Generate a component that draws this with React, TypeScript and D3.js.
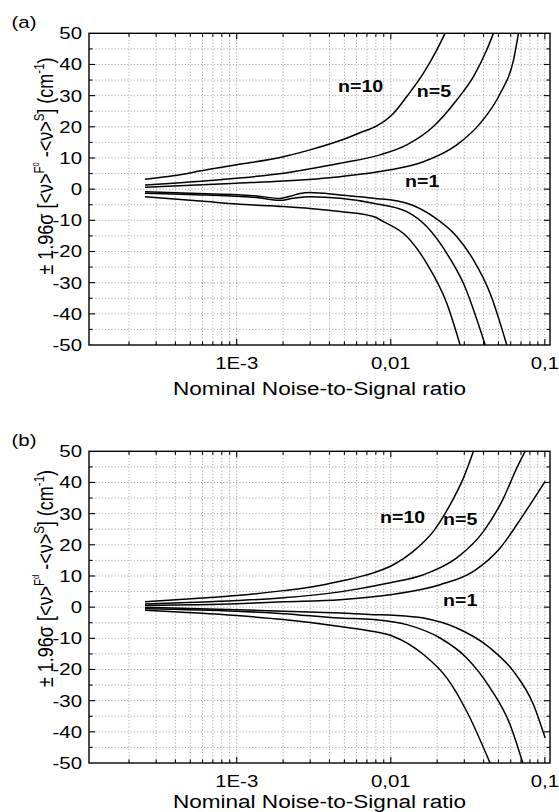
import React from 'react';
import * as d3 from 'd3';

// ---------- data ----------
const X_DOMAIN: [number, number] = [1.1e-4, 0.108];
const Y_DOMAIN: [number, number] = [-50, 50];
const Y_TICKS = [-50, -40, -30, -20, -10, 0, 10, 20, 30, 40, 50];
const X_TICKS = [1e-3, 1e-2, 1e-1];
const X_TICK_LABELS = ['1E-3', '0,01', '0,1'];

type Pt = [number, number];

// panel (a)
const aUp10: Pt[] = [[2.54e-4, 3.2], [3.88e-4, 4.3], [6.38e-4, 6.2], [1.0e-3, 7.8], [2.01e-3, 10.4], [2.99e-3, 12.6], [4.69e-3, 15.6], [6.32e-3, 18.1], [8.11e-3, 20.3], [0.0104, 24.3], [0.0127, 29.7], [0.0163, 37.2], [0.0199, 44.7], [0.0225, 50]];
const aUp5: Pt[] = [[2.54e-4, 1.3], [3.88e-4, 1.9], [1e-3, 3.5], [2.01e-3, 5.1], [4.69e-3, 8.3], [8.52e-3, 11.0], [0.0127, 14.2], [0.0189, 20.1], [0.0268, 28.6], [0.0344, 36.1], [0.042, 44.7], [0.0464, 50]];
const aUp1: Pt[] = [[2.54e-4, 0.6], [1e-3, 1.9], [2.01e-3, 2.6], [4.69e-3, 4.0], [9.9e-3, 6.2], [0.0163, 8.8], [0.0268, 14.2], [0.038, 21.1], [0.0513, 30.7], [0.0626, 41.4], [0.0674, 50]];
const aLo1: Pt[] = [[2.54e-4, -0.8], [6.38e-4, -1.5], [1.348e-3, -2.2], [1.91e-3, -3.0], [2.22e-3, -2.3], [2.58e-3, -1.4], [2.99e-3, -1.1], [4.69e-3, -1.9], [7.71e-3, -2.9], [0.0127, -4.5], [0.0189, -8.8], [0.0268, -15.2], [0.0344, -22.7], [0.0441, -33.4], [0.0566, -50]];
const aLo5: Pt[] = [[2.54e-4, -1.3], [6.38e-4, -1.9], [1.348e-3, -2.7], [1.91e-3, -3.6], [2.33e-3, -2.9], [2.99e-3, -2.4], [4.69e-3, -2.9], [7.71e-3, -4.5], [0.0127, -7.2], [0.0171, -12.0], [0.0231, -20.6], [0.0296, -30.2], [0.041, -50]];
const aLo10: Pt[] = [[2.54e-4, -2.4], [6.38e-4, -4.0], [1e-3, -4.8], [2.01e-3, -5.6], [2.99e-3, -6.2], [4.69e-3, -7.2], [7.71e-3, -8.8], [8.96e-3, -10.4], [0.0127, -15.2], [0.0171, -23.8], [0.0231, -36.6], [0.0282, -50]];

// panel (b)
const bUp10: Pt[] = [[2.54e-4, 1.7], [6.38e-4, 3.0], [1e-3, 3.7], [2.01e-3, 5.3], [2.99e-3, 6.4], [4.69e-3, 8.3], [7.71e-3, 11.0], [0.0104, 13.6], [0.014, 17.9], [0.0189, 24.3], [0.0243, 32.9], [0.0296, 41.4], [0.0344, 50]];
const bUp5: Pt[] = [[2.54e-4, 1.0], [1e-3, 2.1], [2.01e-3, 3.0], [4.69e-3, 4.9], [9.9e-3, 7.8], [0.0163, 10.4], [0.0268, 15.8], [0.04, 24.3], [0.0539, 35.0], [0.0658, 44.7], [0.0745, 50]];
const bUp1: Pt[] = [[2.54e-4, 0.6], [1e-3, 1.1], [2.01e-3, 1.7], [4.69e-3, 2.4], [9.9e-3, 4.0], [0.0209, 7.2], [0.0344, 11.5], [0.0513, 19.0], [0.0727, 29.7], [0.1005, 40.4]];
const bLo1: Pt[] = [[2.54e-4, 0.0], [1e-3, -0.8], [2.01e-3, -1.3], [4.69e-3, -1.9], [7.71e-3, -2.4], [0.0104, -2.6], [0.0163, -3.5], [0.0268, -6.7], [0.0441, -13.1], [0.0626, -20.6], [0.0844, -31.3], [0.1005, -42.0]];
const bLo5: Pt[] = [[2.54e-4, -0.5], [1e-3, -1.3], [2.01e-3, -2.1], [4.69e-3, -3.5], [7.71e-3, -4.0], [0.0127, -5.6], [0.0209, -9.9], [0.0311, -16.3], [0.0441, -25.9], [0.0595, -37.7], [0.0719, -50]];
const bLo10: Pt[] = [[2.54e-4, -1.0], [1e-3, -2.7], [2.01e-3, -4.0], [4.69e-3, -6.2], [7.71e-3, -7.8], [0.0104, -9.4], [0.0163, -15.2], [0.0231, -22.7], [0.0311, -33.4], [0.0441, -50]];

// curve annotations [text, x, y] in data coordinates
const aNotes: [string, number, number][] = [['n=10', 4.55e-3, 31.3], ['n=5', 0.01475, 29.7], ['n=1', 0.01239, 0.8]];
const bNotes: [string, number, number][] = [['n=10', 8.52e-3, 27.0], ['n=5', 0.02186, 26.5], ['n=1', 0.02186, 0.3]];

// ---------- drawing ----------
const SX = 1.2;
const FONT = "'Liberation Sans', Arial, Helvetica, sans-serif";
const W = 559;
const H = 812;

function tr(x: number, y: number, rot = 0) {
  return `translate(${x},${y}) scale(${SX},1)` + (rot ? ` rotate(${rot})` : '');
}

interface PanelProps {
  id: string;
  top: number;
  letter: string;
  sup: string;
  series: Pt[][];
  notes: [string, number, number][];
  yLabelCY: number;
  titleOff: number;
}

function Panel({ id, top, letter, sup, series, notes, yLabelCY, titleOff }: PanelProps) {
  const left = 89;
  const right = 550;
  const bottom = top + 311.7;
  const x = d3.scaleLog().domain(X_DOMAIN).range([left, right]);
  const y = d3.scaleLinear().domain(Y_DOMAIN).range([bottom, top]);
  const line = d3
    .line<Pt>()
    .x((d) => x(d[0]))
    .y((d) => y(d[1]))
    .curve(d3.curveMonotoneX);

  const xMinor: number[] = [];
  for (let e = -4; e <= -1; e++) {
    for (let k = 1; k <= 9; k++) {
      const v = k * Math.pow(10, e);
      if (v > X_DOMAIN[0] && v < X_DOMAIN[1]) xMinor.push(v);
    }
  }
  const yGrid = d3.range(-45, 50, 5);
  const gridStyle = { stroke: '#9a9a9a', strokeWidth: 1, strokeDasharray: '1,2.2' };

  return (
    <g>
      <defs>
        <clipPath id={id}>
          <rect x={left} y={top} width={right - left} height={bottom - top} />
        </clipPath>
      </defs>
      {xMinor.map((v, i) => (
        <line key={'gx' + i} x1={x(v)} x2={x(v)} y1={top} y2={bottom} {...gridStyle} />
      ))}
      {yGrid.map((v, i) => (
        <line key={'gy' + i} x1={left} x2={right} y1={y(v)} y2={y(v)} {...gridStyle} />
      ))}
      {xMinor.map((v, i) => {
        const major = X_TICKS.some((t) => Math.abs(t - v) / t < 1e-6);
        const L = major ? 6 : 3.5;
        return (
          <g key={'tx' + i} stroke="#000" strokeWidth={1.1}>
            <line x1={x(v)} x2={x(v)} y1={bottom} y2={bottom - L} />
            <line x1={x(v)} x2={x(v)} y1={top} y2={top + L} />
          </g>
        );
      })}
      {d3.range(-45, 50, 5).map((v, i) => {
        const major = v % 10 === 0;
        const L = major ? 6 : 3.5;
        return (
          <g key={'ty' + i} stroke="#000" strokeWidth={1.1}>
            <line x1={left} x2={left + L} y1={y(v)} y2={y(v)} />
            <line x1={right} x2={right - L} y1={y(v)} y2={y(v)} />
          </g>
        );
      })}
      <g clipPath={`url(#${id})`}>
        {series.map((s, i) => (
          <path key={'c' + i} d={line(s) || ''} fill="none" stroke="#000" strokeWidth={1.5} />
        ))}
      </g>
      <rect x={left} y={top} width={right - left} height={bottom - top} fill="none" stroke="#000" strokeWidth={1.4} />
      {Y_TICKS.map((v) => (
        <text key={'yl' + v} transform={tr(82, y(v) + 6)} fontSize={17} textAnchor="end" fontFamily={FONT}>
          {v}
        </text>
      ))}
      {X_TICKS.map((v, i) => (
        <text key={'xl' + i} transform={tr(x(v), bottom + 23.5)} fontSize={17} textAnchor="middle" fontFamily={FONT}>
          {X_TICK_LABELS[i]}
        </text>
      ))}
      <text transform={tr((left + right) / 2, bottom + titleOff)} fontSize={18.8} textAnchor="middle" fontFamily={FONT}>
        Nominal Noise-to-Signal ratio
      </text>
      <text transform={tr(53, yLabelCY, -90)} fontSize={18} textAnchor="middle" fontFamily={FONT}>
        {'± 1.96σ [<ν>'}
        <tspan dy={-7.5} fontSize={11.5}>F</tspan>
        <tspan dy={-4} fontSize={7.5}>{sup}</tspan>
        <tspan dy={11.5} fontSize={18}>{' -<ν>'}</tspan>
        <tspan dy={-7.5} fontSize={11.5}>S</tspan>
        <tspan dy={7.5} fontSize={18}>{'] (cm'}</tspan>
        <tspan dy={-7.5} fontSize={11.5}>-1</tspan>
        <tspan dy={7.5} fontSize={18}>)</tspan>
      </text>
      <text transform={tr(11.5, top - 5.5)} fontSize={17} fontFamily={FONT}>
        {letter}
      </text>
      {notes.map(([t, nx, ny], i) => (
        <text key={'n' + i} transform={tr(x(nx), y(ny))} fontSize={16.3} fontWeight="bold" fontFamily={FONT}>
          {t}
        </text>
      ))}
    </g>
  );
}

export default function App() {
  return (
    <svg
      width={W}
      height={H}
      viewBox={`0 0 ${W} ${H}`}
      style={{ position: 'absolute', left: 0, top: 0, background: '#fff' }}
    >
      <rect x={0} y={0} width={W} height={H} fill="#fff" />
      <Panel
        id="clipA"
        top={33.3}
        letter="(a)"
        sup="0"
        series={[aUp10, aUp5, aUp1, aLo1, aLo5, aLo10]}
        notes={aNotes}
        yLabelCY={166}
        titleOff={50}
      />
      <Panel
        id="clipB"
        top={451.3}
        letter="(b)"
        sup="d"
        series={[bUp10, bUp5, bUp1, bLo1, bLo5, bLo10]}
        notes={bNotes}
        yLabelCY={578.5}
        titleOff={44.5}
      />
    </svg>
  );
}
